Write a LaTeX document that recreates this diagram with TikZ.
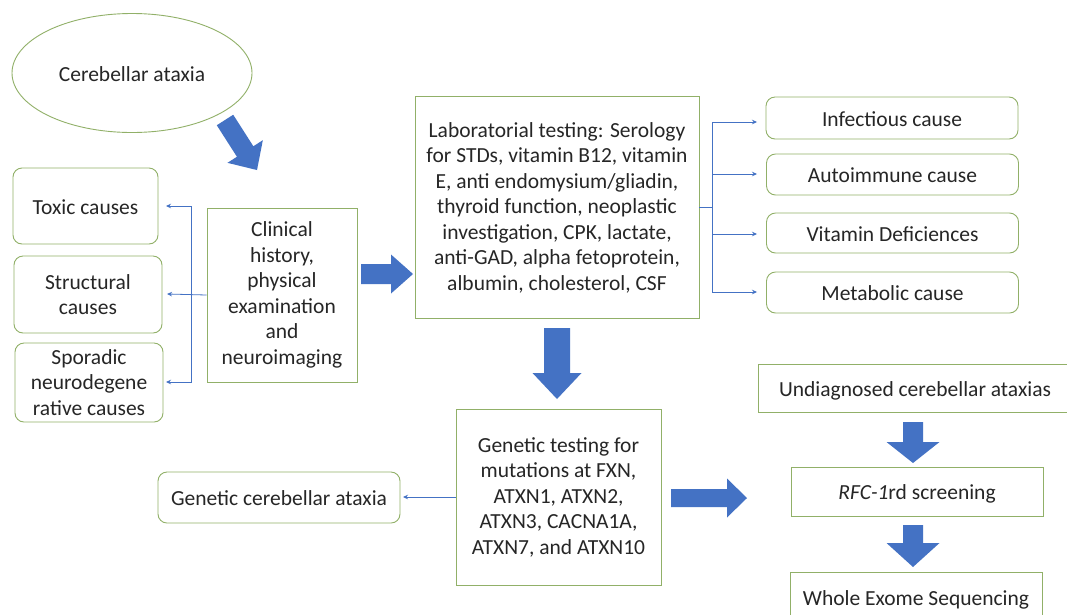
\documentclass[tikz,border=0pt]{standalone}
\usepackage{fontspec}
\setmainfont{Carlito}
\usetikzlibrary{arrows.meta,shapes.geometric}
\definecolor{boxgreen}{RGB}{145,176,104}
\definecolor{arrblue}{RGB}{68,114,196}
\definecolor{txt}{RGB}{38,38,38}
\tikzset{
  base/.style={draw=boxgreen, line width=0.9pt, text=txt, align=center,
    font=\fontsize{21.5}{25.5}\selectfont, inner sep=0pt},
  rbox/.style={base, rounded corners=9pt},
  sbox/.style={base},
  oneline/.style={text height=17pt, text depth=1pt},
  conn/.style={draw=arrblue, line width=0.8pt, -{Stealth[length=5pt,width=4.5pt]}},
  connline/.style={draw=arrblue, line width=0.8pt},
}
\newcommand\blkarr[7]{\fill[arrblue, shift={(#1,#2)}, rotate=#3]
  (0,{-#5/2}) -- ({#4-#7},{-#5/2}) -- ({#4-#7},{-#6/2}) -- (#4,0) --
  ({#4-#7},{#6/2}) -- ({#4-#7},{#5/2}) -- (0,{#5/2}) -- cycle;}
\begin{document}
\begin{tikzpicture}[x=1pt,y=-1pt]
\clip (0,0) rectangle (1067,614);
\fill[white] (0,0) rectangle (1067,614);

% nodes
\node[base, ellipse, minimum width=240, minimum height=119, oneline] (ca) at (132,73) {Cerebellar ataxia};
\node[rbox, minimum width=145, minimum height=76, oneline] (toxic) at (85.5,206) {Toxic causes};
\node[rbox, minimum width=148, minimum height=77] (struct) at (88,294.5) {Structural\\causes};
\node[rbox, minimum width=148, minimum height=79] (spor) at (89,382.5) {Sporadic\\neurodegene\\rative causes};
\node[sbox, minimum width=150, minimum height=174] (clin) at (282,295) {Clinical\\history,\\physical\\examination\\and\\neuroimaging};
\node[sbox, minimum width=284, minimum height=222] (lab) at (557,207.5) {Laboratorial testing: Serology\\for STDs, vitamin B12, vitamin\\E, anti endomysium/gliadin,\\thyroid function, neoplastic\\investigation, CPK, lactate,\\anti-GAD, alpha fetoprotein,\\albumin, cholesterol, CSF};
\node[rbox, minimum width=252, minimum height=42, oneline] (inf) at (892,118) {Infectious cause};
\node[rbox, minimum width=252, minimum height=41, oneline] (auto) at (892.5,174.5) {Autoimmune cause};
\node[rbox, minimum width=252, minimum height=40, oneline] (vit) at (892.5,233) {Vitamin Deficiences};
\node[rbox, minimum width=252, minimum height=41, oneline] (met) at (892.5,292.5) {Metabolic cause};
\node[sbox, minimum width=205, minimum height=176] (gen) at (558.5,497) {Genetic testing for\\mutations at FXN,\\ATXN1, ATXN2,\\ATXN3, CACNA1A,\\ATXN7, and ATXN10};
\node[rbox, minimum width=242, minimum height=51, oneline] (gca) at (279,497.5) {Genetic cerebellar ataxia};
\node[sbox, minimum width=314, minimum height=48, oneline] (und) at (915,388) {Undiagnosed cerebellar ataxias};
\node[sbox, minimum width=252, minimum height=49, oneline] (rfc) at (917,491.5) {\textit{RFC-1}rd screening};
\node[sbox, minimum width=252, minimum height=50, oneline] (wes) at (916,597) {Whole Exome Sequencing};

% block arrows
\blkarr{225}{120}{-57.4}{59.4}{19.5}{42}{22}
\blkarr{361}{274}{0}{52}{20}{39}{22}
\blkarr{557}{328}{-90}{71}{26}{49}{26}
\blkarr{671}{498}{0}{76}{18}{39}{20}
\blkarr{913}{422}{-90}{41}{20}{53}{21}
\blkarr{913}{525}{-90}{42}{20}{53}{24}

% thin connectors, left
\coordinate (bl) at (191,294);
\coordinate (tIn) at (166,206);
\coordinate (sIn) at (167,294);
\coordinate (spIn) at (166,382);
\draw[conn] (clin.west) -- (sIn);
\draw[conn] (bl) |- (tIn);
\draw[conn] (bl) |- (spIn);

% thin connectors, right
\coordinate (br) at (712,207.5);
\coordinate (iIn) at (757,122);
\coordinate (aIn) at (757,174);
\coordinate (vIn) at (757,234);
\coordinate (mIn) at (757,292);
\draw[connline] (lab.east) -- (br);
\draw[conn] (br) |- (iIn);
\draw[conn] (br) |- (aIn);
\draw[conn] (br) |- (vIn);
\draw[conn] (br) |- (mIn);

% genetic connector
\coordinate (gIn) at (403,497);
\draw[conn] (gen.west) -- (gIn);
\end{tikzpicture}
\end{document}
